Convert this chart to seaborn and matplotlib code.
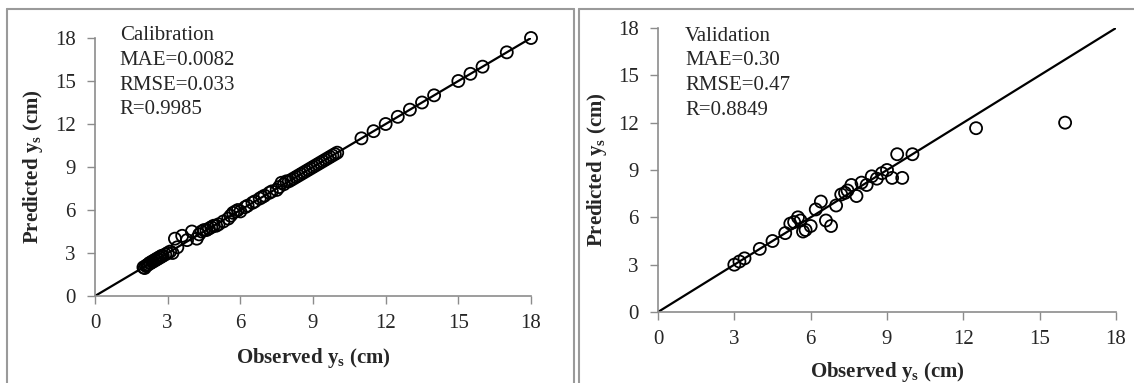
import matplotlib
matplotlib.use("Agg")
from matplotlib import pyplot as plt
from matplotlib.lines import Line2D
import seaborn as sns
import pandas as pd

# calibration set (observed vs predicted scour depth, cm)
cal_obs = [2.0, 2.05, 2.1, 2.15, 2.2, 2.25, 2.3, 2.35, 2.4, 2.45,
           2.5, 2.55, 2.6, 2.65, 2.7, 2.75, 2.8, 2.9, 3.0, 3.1,
           3.2, 3.3, 3.4, 3.6, 3.8, 4.0, 4.2, 4.3, 4.4, 4.5,
           4.6, 4.7, 4.8, 4.9, 5.0, 5.1, 5.3, 5.5, 5.6, 5.7,
           5.8, 5.9, 6.0, 6.2, 6.3, 6.5, 6.6, 6.8, 6.9, 7.0,
           7.2, 7.3, 7.5, 7.6, 7.7, 7.8, 7.9, 8.0, 8.1, 8.2,
           8.3, 8.4, 8.5, 8.6, 8.7, 8.8, 8.9, 9.0, 9.1, 9.2,
           9.3, 9.4, 9.5, 9.6, 9.7, 9.8, 9.9, 10.0, 11.0, 11.5,
           12.0, 12.5, 13.0, 13.5, 14.0, 15.0, 15.5, 16.0, 17.0, 18.0]
cal_pred = [2.0, 1.95, 2.1, 2.15, 2.2, 2.3, 2.3, 2.4, 2.4, 2.5,
            2.5, 2.6, 2.6, 2.7, 2.7, 2.8, 2.8, 2.9, 3.0, 3.1,
            3.0, 4.0, 3.4, 4.2, 3.9, 4.5, 4.0, 4.3, 4.5, 4.6,
            4.6, 4.7, 4.8, 4.9, 4.9, 5.0, 5.2, 5.4, 5.6, 5.8,
            5.9, 6.0, 5.9, 6.2, 6.3, 6.5, 6.6, 6.8, 6.9, 7.0,
            7.2, 7.3, 7.4, 7.6, 7.9, 7.8, 8.0, 8.0, 8.1, 8.2,
            8.3, 8.4, 8.5, 8.6, 8.7, 8.8, 8.9, 9.0, 9.1, 9.2,
            9.3, 9.4, 9.5, 9.6, 9.7, 9.8, 9.9, 10.0, 11.0, 11.5,
            12.0, 12.5, 13.0, 13.5, 14.0, 15.0, 15.5, 16.0, 17.0, 18.0]

# validation set
val_obs = [3.0, 3.2, 3.4, 4.0, 4.5, 5.0, 5.2, 5.35, 5.5, 5.6,
           5.7, 5.8, 6.0, 6.2, 6.4, 6.6, 6.8, 7.0, 7.2, 7.35,
           7.45, 7.6, 7.8, 8.0, 8.2, 8.4, 8.6, 8.8, 9.0, 9.2,
           9.4, 9.6, 10.0, 12.5, 16.0]
val_pred = [3.0, 3.2, 3.4, 4.0, 4.5, 5.0, 5.6, 5.7, 6.0, 5.8,
            5.1, 5.2, 5.45, 6.5, 7.0, 5.8, 5.45, 6.75, 7.45, 7.55,
            7.7, 8.05, 7.35, 8.2, 8.05, 8.6, 8.45, 8.8, 9.0, 8.5,
            10.0, 8.5, 10.0, 11.65, 12.0]

# 1:1 line and tick values
line_xy = [0, 18]
ticks = [0, 3, 6, 9, 12, 15, 18]

cal_stats = ["Calibration", "MAE=0.0082", "RMSE=0.033", "R=0.9985"]
val_stats = ["Validation", "MAE=0.30", "RMSE=0.47", "R=0.8849"]

sns.set_style("white")
plt.rcParams['font.family'] = ['Liberation Serif', 'DejaVu Serif']
plt.rcParams['mathtext.fontset'] = 'custom'
plt.rcParams['mathtext.rm'] = 'Liberation Serif'
plt.rcParams['mathtext.bf'] = 'Liberation Serif:bold'

fig = plt.figure(figsize=(11.34, 3.83), dpi=100)
W, H = 1134, 383

def px_axes(x0, y0, x1, y1):
    return fig.add_axes([x0 / W, 1 - y1 / H, (x1 - x0) / W, (y1 - y0) / H])

ax1 = px_axes(95, 38, 531, 296)
ax2 = px_axes(658, 28, 1116, 312)

panels = [(ax1, cal_obs, cal_pred, cal_stats, (-0.115, -0.195)),
          (ax2, val_obs, val_pred, val_stats, (-0.106, -0.168))]

gray = "#8c8c8c"
fs = 15
for ax, obs, pred, stats, (ylx, xly) in panels:
    df = pd.DataFrame({"obs": obs, "pred": pred})
    sns.lineplot(x=line_xy, y=line_xy, ax=ax, color="black", linewidth=1.6)
    sns.scatterplot(data=df, x="obs", y="pred", ax=ax, s=75, facecolor="none",
                    edgecolor="black", linewidth=1.3, zorder=3, clip_on=False)
    ax.set_xlim(0, 18)
    ax.set_ylim(0, 18)
    ax.set_xticks(ticks)
    ax.set_yticks(ticks)
    ax.tick_params(axis="both", labelsize=fs, color=gray, length=6, width=1,
                   direction="out", bottom=True, left=True)
    ax.tick_params(axis="x", pad=7)
    ax.tick_params(axis="y", pad=8)
    for s in ["top", "right"]:
        ax.spines[s].set_visible(False)
    for s in ["left", "bottom"]:
        ax.spines[s].set_color(gray)
        ax.spines[s].set_linewidth(1.2)
    ax.set_xlabel(r"Observed y$_\mathbf{s}$ (cm)", fontsize=fs, fontweight="bold")
    ax.set_ylabel(r"Predicted y$_\mathbf{s}$ (cm)", fontsize=fs, fontweight="bold")
    ax.xaxis.set_label_coords(0.5, xly)
    ax.yaxis.set_label_coords(ylx, 0.5)

ax1.text(0.057, 1.045, "\n".join(cal_stats), transform=ax1.transAxes,
         fontsize=fs, va="top", ha="left", linespacing=1.4)
ax2.text(0.059, 1.004, "\n".join(val_stats), transform=ax2.transAxes,
         fontsize=fs, va="top", ha="left", linespacing=1.4)

# panel frames
frame = "#9a9a9a"
for xs, ys in [([7, 7], [9, 400]), ([7, 574], [9, 9]), ([574, 574], [9, 400]),
               ([579, 579], [9, 400]), ([579, 1140], [9, 9])]:
    fig.add_artist(Line2D([x / W for x in xs], [1 - y / H for y in ys],
                          transform=fig.transFigure, color=frame, linewidth=1.5))

fig.savefig("out.png", dpi=100)
